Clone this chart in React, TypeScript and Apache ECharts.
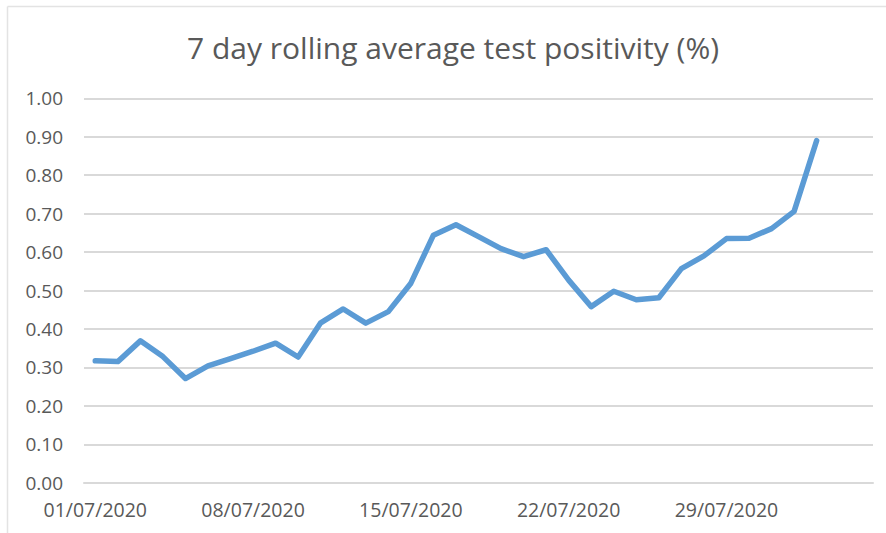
import React, { useEffect, useRef } from "react";
import * as echarts from "echarts";

const categories: string[] = [
  "01/07/2020", "02/07/2020", "03/07/2020", "04/07/2020", "05/07/2020", "06/07/2020", "07/07/2020",
  "08/07/2020", "09/07/2020", "10/07/2020", "11/07/2020", "12/07/2020", "13/07/2020", "14/07/2020",
  "15/07/2020", "16/07/2020", "17/07/2020", "18/07/2020", "19/07/2020", "20/07/2020", "21/07/2020",
  "22/07/2020", "23/07/2020", "24/07/2020", "25/07/2020", "26/07/2020", "27/07/2020", "28/07/2020",
  "29/07/2020", "30/07/2020", "31/07/2020", "01/08/2020", "02/08/2020", "03/08/2020", "04/08/2020",
];

const positivity: (number | null)[] = [
  0.317, 0.315, 0.369, 0.328, 0.271, 0.304, 0.323,
  0.342, 0.363, 0.327, 0.416, 0.452, 0.415, 0.445,
  0.519, 0.644, 0.671, 0.640, 0.609, 0.588, 0.606,
  0.527, 0.458, 0.498, 0.476, 0.481, 0.557, 0.590,
  0.635, 0.636, 0.661, 0.706, 0.890, null, null,
];

const yTicks = { min: 0, max: 1, interval: 0.1 };
const titleText = "7 day rolling average test positivity (%)";

export default function App() {
  const ref = useRef<HTMLDivElement>(null);
  useEffect(() => {
    if (!ref.current) return;
    const chart = echarts.init(ref.current, null, { renderer: "svg" });
    const font = "'Open Sans', 'Noto Sans', sans-serif";
    chart.setOption({
      animation: false,
      backgroundColor: "#ffffff",
      textStyle: { fontFamily: font },
      grid: { left: 84, right: 13, top: 98.3, bottom: 50.3, containLabel: false },
      graphic: [
        {
          type: "line",
          shape: { x1: 7.5, y1: 6.5, x2: 7.5, y2: 533 },
          style: { stroke: "#e3e3e3", lineWidth: 1.5 },
        },
        {
          type: "line",
          shape: { x1: 7.5, y1: 6.5, x2: 886, y2: 6.5 },
          style: { stroke: "#e3e3e3", lineWidth: 1.5 },
        },
        {
          type: "text",
          x: 453,
          y: 47,
          style: {
            text: titleText,
            fontFamily: font,
            fontSize: 30,
            fill: "#595959",
            textAlign: "center",
            textVerticalAlign: "middle",
          },
        },
      ],
      xAxis: {
        type: "category",
        data: categories,
        boundaryGap: true,
        axisTick: { show: false },
        axisLine: { show: true, lineStyle: { color: "#d9d9d9", width: 2 } },
        axisLabel: {
          interval: 6,
          color: "#595959",
          fontSize: 19.5,
          fontFamily: font,
          margin: 17,
        },
        splitLine: { show: false },
      },
      yAxis: {
        type: "value",
        min: yTicks.min,
        max: yTicks.max,
        interval: yTicks.interval,
        axisLine: { show: false },
        axisTick: { show: false },
        axisLabel: {
          color: "#595959",
          fontSize: 19,
          fontFamily: font,
          margin: 21,
          formatter: (v: number) => v.toFixed(2),
        },
        splitLine: { lineStyle: { color: "#d9d9d9", width: 2 } },
      },
      series: [
        {
          type: "line",
          data: positivity,
          showSymbol: false,
          symbol: "none",
          connectNulls: false,
          lineStyle: { color: "#5b9bd5", width: 5.5, cap: "round", join: "round" },
        },
      ],
    });
    return () => chart.dispose();
  }, []);
  return (
    <div
      ref={ref}
      style={{ position: "fixed", left: 0, top: 0, width: 886, height: 533 }}
    />
  );
}
